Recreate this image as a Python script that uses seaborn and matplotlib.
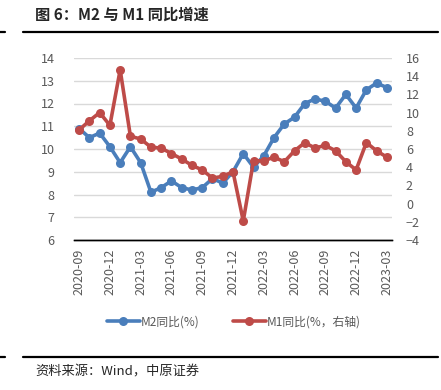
"""M2 and M1 year-on-year growth"""
import matplotlib
matplotlib.use("Agg")
import matplotlib.pyplot as plt
from matplotlib.lines import Line2D
import seaborn as sns

months = ["2020-09", "2020-10", "2020-11", "2020-12", "2021-01", "2021-02",
          "2021-03", "2021-04", "2021-05", "2021-06", "2021-07", "2021-08",
          "2021-09", "2021-10", "2021-11", "2021-12", "2022-01", "2022-02",
          "2022-03", "2022-04", "2022-05", "2022-06", "2022-07", "2022-08",
          "2022-09", "2022-10", "2022-11", "2022-12", "2023-01", "2023-02",
          "2023-03"]
m2 = [10.9, 10.5, 10.7, 10.1, 9.4, 10.1, 9.4, 8.1, 8.3, 8.6, 8.3, 8.2,
      8.3, 8.7, 8.5, 9.0, 9.8, 9.2, 9.7, 10.5, 11.1, 11.4, 12.0, 12.2,
      12.1, 11.8, 12.4, 11.8, 12.6, 12.9, 12.7]
m1 = [8.1, 9.1, 10.0, 8.6, 14.7, 7.4, 7.1, 6.2, 6.1, 5.5, 4.9, 4.2,
      3.7, 2.8, 3.0, 3.5, -1.9, 4.7, 4.7, 5.1, 4.6, 5.8, 6.7, 6.1,
      6.4, 5.8, 4.6, 3.7, 6.7, 5.8, 5.1]

BLUE = "#4A7EBB"
RED = "#BE4B48"
GRAY = "#595959"

sns.set_style("white")
plt.rcParams["font.family"] = ["Noto Sans CJK SC", "DejaVu Sans"]

fig = plt.figure(figsize=(4.41, 3.90), dpi=100)
ax = fig.add_axes([74 / 441, 1 - 240 / 390, 318 / 441, 182 / 390])
ax2 = ax.twinx()

idx = list(range(len(months)))
sns.lineplot(x=idx, y=m2, ax=ax, color=BLUE, lw=2.6, marker="o",
             markersize=6.5, markeredgewidth=0, legend=False)
sns.lineplot(x=idx, y=m1, ax=ax2, color=RED, lw=2.6, marker="o",
             markersize=6.5, markeredgewidth=0, legend=False)

ax.set_xlim(-0.5, len(months) - 0.5)
ax.set_ylim(6, 14)
ax.set_yticks(range(6, 15))
ax2.set_ylim(-4, 16)
ax2.set_yticks(range(-4, 17, 2))
ax.grid(axis="y", color="#D9D9D9", lw=1)
ax.set_axisbelow(True)

# category labels at centres, tick marks at boundaries
ax.set_xticks(idx[::3])
ax.set_xticklabels(months[::3], rotation=90, fontsize=9, color=GRAY)
ax.set_xticks([i - 0.5 for i in idx[::3]], minor=True)
ax.tick_params(axis="x", which="major", length=0, pad=6)
ax.tick_params(axis="x", which="minor", length=4, width=1, color="black", direction="out")
ax.tick_params(axis="y", length=0, labelsize=9, labelcolor=GRAY, pad=14)
ax2.tick_params(axis="y", length=0, labelsize=9, labelcolor=GRAY, pad=10)

for a in (ax, ax2):
    for s in ("left", "right", "top"):
        a.spines[s].set_visible(False)
    a.spines["bottom"].set_color("black")
    a.spines["bottom"].set_linewidth(1)

handles = ax.get_lines()[:1] + ax2.get_lines()[:1]
fig.legend(handles, ["M2同比(%)", "M1同比(%，右轴)"], loc="center",
           bbox_to_anchor=(234 / 441, 1 - 322 / 390), ncol=2, frameon=False,
           fontsize=8.5, labelcolor=GRAY, handlelength=2.8, columnspacing=2.8,
           handletextpad=0.1)

fig.text(35 / 441, 1 - 15 / 390, "图 6：M2 与 M1 同比增速", fontsize=11,
         fontweight="bold", va="center", ha="left")
fig.text(35 / 441, 1 - 372 / 390, "资料来源：Wind，中原证券", fontsize=9.5,
         va="center", ha="left")
for y in (32, 357):
    yy = 1 - y / 390
    fig.add_artist(Line2D([23 / 441, 438 / 441], [yy, yy], color="black", lw=1.6))
    fig.add_artist(Line2D([0, 5 / 441], [yy, yy], color="black", lw=1.6))

fig.savefig("out.png", dpi=100)
